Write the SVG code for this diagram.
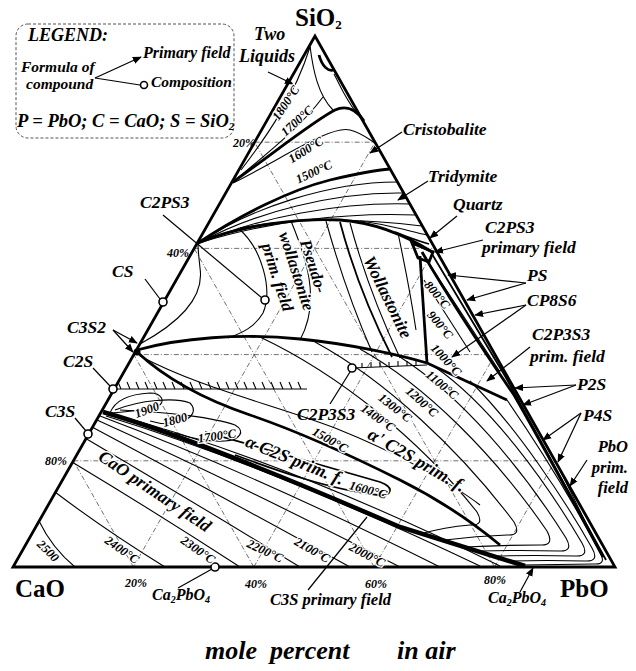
<svg xmlns="http://www.w3.org/2000/svg" width="636" height="671" viewBox="0 0 636 671">
<defs>
<marker id="ah" viewBox="0 0 10 10" refX="9" refY="5" markerWidth="9" markerHeight="9" markerUnits="userSpaceOnUse" orient="auto"><path d="M0,1 L10,5 L0,9 Z" fill="#000"/></marker>
<style>
.lb{font-family:"Liberation Serif",serif;font-weight:bold;font-style:italic;fill:#000}
.vx{font-family:"Liberation Serif",serif;font-weight:bold;font-size:25px;fill:#000}
.tl{font-family:"Liberation Serif",serif;font-weight:bold;font-style:italic;font-size:12.5px;fill:#000;stroke:#fff;stroke-width:2.5px;paint-order:stroke;text-anchor:middle}
.fl{font-family:"Liberation Serif",serif;font-weight:bold;font-style:italic;fill:#000;stroke:#fff;stroke-width:3px;paint-order:stroke;text-anchor:middle}
.pc{font-family:"Liberation Serif",serif;font-weight:bold;font-style:italic;font-size:12px;fill:#000}
.thin{fill:none;stroke:#000;stroke-width:1.1}
.med{fill:none;stroke:#000;stroke-width:1.8}
.thick{fill:none;stroke:#000;stroke-width:2.8}
.heavy{fill:none;stroke:#000;stroke-width:4.5}
.grid{fill:none;stroke:#333;stroke-width:0.7;stroke-dasharray:5 2 1 2}
.ptr{fill:none;stroke:#000;stroke-width:1.2}
.arr{fill:none;stroke:#000;stroke-width:1.2;marker-end:url(#ah)}
.pt{fill:#fff;stroke:#000;stroke-width:1.6}
</style>
</defs>
<rect width="636" height="671" fill="#fff"/>

<g id="grid">
<path class="grid" d="M254.6,142.2 H375 M194.2,248.4 H435 M133.8,354.6 H495 M73.4,460.8 H555"/>
<path class="grid" d="M133.4,567 L375,142.2 M253.8,567 L435,248.4 M374.2,567 L495,354.6 M494.6,567 L555,460.8"/>
<path class="grid" d="M494.6,567 L254.6,142.2 M374.2,567 L194.2,248.4 M253.8,567 L133.8,354.6 M133.4,567 L73.4,460.8"/>
</g>

<g id="triangle">
<path d="M315,36 L13,567 L615,567 Z" fill="none" stroke="#000" stroke-width="2.8" stroke-linejoin="miter"/>
</g>

<g id="silica-region">
<path class="thin" d="M310,46 C313,70 318,95 333,110"/>
<path class="thick" d="M319,55 C322,66 328,72 334,70"/>
<path class="thin" d="M334,74 C340,85 345,98 356,112"/>
<path class="thin" d="M241,170 C268,135 295,95 310,47"/>
<path class="thin" d="M233,182 C265,155 300,128 323,97"/>
<path class="thick" d="M233,182 C275,152 315,120 335,110 C348,104 358,112 364,121"/>
<path class="thin" d="M233,183 C280,160 330,125 350,130 C362,133 370,140 375,143"/>
<path class="thick" d="M198,243 C240,215 290,190 330,180 C355,174 375,170 390,169"/>
<path class="thin" d="M199,243 C250,208 330,182 397,182"/>
<path class="thin" d="M199,243 C255,212 335,192 403,193"/>
<path class="thin" d="M199,243 C260,217 340,202 410,204"/>
<path class="thin" d="M199,243 C265,222 345,212 416,215"/>
<path class="thin" d="M240,228 C290,218 360,218 422,226"/>
<path class="thin" d="M360,221 C385,224 405,230 427,235"/>
<path class="med" d="M395,232 C405,236 415,240 429,244"/>
<path class="thick" d="M198,243 C240,225 300,218 340,220 C380,223 410,238 432,252"/>
<path class="thick" d="M412,243 L433,252 L429,262 L418,258 Z" fill="#000"/>
</g>

<g id="wollastonite-region">
<path class="thin" d="M140,344 C175,325 205,300 200,268 C199,258 198,250 198,245"/>
<path class="thin" d="M238,228 C262,248 273,290 263,313 C255,327 242,333 228,338"/>
<path class="thin" d="M291,221 C305,255 322,300 300,340"/>
<path class="thin" d="M326,221 Q345,290 372,352"/>
<path class="med" d="M340,222 Q358,290 392,357"/>
<path class="thin" d="M350,223 Q368,290 400,358"/>
<path class="thin" d="M398,233 Q410,290 416,330"/>
<path class="thick" d="M420,256 L427,363"/>
<path class="thick" d="M137,350 C180,338 240,333 300,339 C350,344 400,355 427,363"/>
<path class="thick" d="M427,363 L507,400"/>
</g>

<g id="pbo-side">
<path class="thick" d="M422,252 C450,300 490,360 514,395 C540,440 575,505 603,557" stroke-width="3.2"/>
<path class="med" d="M432,254 L505,376 L606,560"/>
<path class="thin" d="M428,262 L500,372"/>
<path class="thin" d="M424,280 L470,352"/>
<path class="thin" d="M560,470 L600,552"/>
</g>

<g id="c2s-region">
<path class="thin" d="M113,389 H307"/>
<path class="thin" d="M121,389 l-3,-7 M130,389 l-3,-7 M139,389 l-3,-7 M148,389 l-3,-7 M157,389 l-3,-7 M166,389 l-3,-7 M175,389 l-3,-7 M184,389 l-3,-7 M193,389 l-3,-7 M202,389 l-3,-7 M211,389 l-3,-7 M220,389 l-3,-7 M229,389 l-3,-7 M238,389 l-3,-7 M247,389 l-3,-7 M256,389 l-3,-7 M265,389 l-3,-7 M274,389 l-3,-7 M283,389 l-3,-7 M292,389 l-3,-7 M301,389 l-3,-7"/>
<path class="thin" d="M352,368 L427,365"/>
<path class="thin" d="M362,368 v-5 M371,367 v-5 M380,367 v-5 M389,367 v-5 M398,366 v-5 M407,366 v-5 M416,366 v-5"/>
<path class="thick" d="M137,352 C165,378 200,398 250,415 C300,432 350,455 400,480 C440,500 470,520 500,545"/>
<path class="thin" d="M140,356 C200,388 275,405 335,428 C395,452 450,482 480,505"/>
<path class="thin" d="M507,400 C545,455 580,515 600,552 Q607,565 594,564 L522,565"/>
<path class="thin" d="M470,381 C515,425 565,500 592,548 Q600,562 585,561 Q548,560 510,561"/>
<path class="thin" d="M435,367 C490,405 545,480 582,543 Q590,557 575,556 Q535,555 495,556"/>
<path class="thin" d="M400,357 C460,395 520,465 566,538 Q574,552 559,551 Q520,550 480,551"/>
<path class="thin" d="M360,349 C425,385 495,455 547,531 Q555,546 540,545 Q503,545 465,547"/>
<path class="thin" d="M315,342 C385,380 460,450 514,522 Q522,536 507,535 Q476,536 445,540"/>
<path class="thin" d="M260,337 C340,375 420,440 477,512 Q485,526 470,525 Q445,527 420,534"/>
<path class="med" d="M205,432 C270,450 340,470 380,482 C395,487 392,497 378,495 C330,490 270,468 235,455"/>
<path class="thin" d="M120,410 C170,412 215,418 235,425 C246,431 240,440 225,441 C205,442 190,438 175,433"/>
<path class="thin" d="M115,410 C140,400 175,397 190,403 C197,410 193,418 180,422 C170,425 160,424 150,421"/>
<path class="thin" d="M110,413 C115,400 130,394 150,393 C162,393 166,402 158,406 C145,410 125,412 110,413"/>
<path class="heavy" d="M103,412 C160,428 250,462 400,527 L525,566"/>
<path class="thin" d="M106,416 Q270,466 480,566"/>
<path class="thin" d="M108,413 Q280,458 500,566"/>
</g>

<g id="cao-region">
<path class="thin" d="M39,521 Q52,548 75,567"/>
<path class="thin" d="M55,492 Q105,530 165,567"/>
<path class="thin" d="M72,462 Q160,515 240,567"/>
<path class="thin" d="M85,438 Q190,500 300,567"/>
<path class="thin" d="M92,427 Q210,490 350,567"/>
<path class="thin" d="M97,420 Q230,480 400,567"/>
<path class="thin" d="M100,416 Q250,472 440,567"/>
</g>

<g id="connectors">
<path class="arr" d="M95,78 L141,57"/>
<path class="ptr" d="M95,78 L140,85"/>
<path class="arr" d="M268,72 L293,84"/>
<path class="arr" d="M402,132 L370,153"/>
<path class="arr" d="M428,181 L398,200"/>
<path class="arr" d="M457,216 L430,238"/>
<path class="arr" d="M483,240 L435,252"/>
<path class="arr" d="M526,283 L448,275"/>
<path class="arr" d="M526,283 L467,300"/>
<path class="arr" d="M526,305 L475,315"/>
<path class="arr" d="M526,305 L452,357"/>
<path class="arr" d="M530,347 L487,381"/>
<path class="arr" d="M576,385 L515,388"/>
<path class="arr" d="M576,385 L523,405"/>
<path class="arr" d="M581,413 L543,440"/>
<path class="arr" d="M581,413 L558,462"/>
<path class="arr" d="M587,460 L570,486"/>
<path class="arr" d="M520,592 L533,568"/>
<path class="ptr" d="M308,590 L367,517"/>
<path class="ptr" d="M178,588 L212,569"/>
<path class="ptr" d="M163,215 L262,298"/>
<path class="ptr" d="M145,279 L160,299"/>
<path class="arr" d="M113,330 L137,343"/>
<path class="arr" d="M113,330 L133,352"/>
<path class="ptr" d="M93,368 L110,386"/>
<path class="ptr" d="M75,418 L86,431"/>
<path class="ptr" d="M330,404 L350,372"/>
</g>

<g id="compositions">
<circle class="pt" cx="144" cy="85" r="3.5"/>
<circle class="pt" cx="163" cy="302" r="4"/>
<circle class="pt" cx="113" cy="389" r="4"/>
<circle class="pt" cx="88" cy="434" r="4"/>
<circle class="pt" cx="265" cy="300" r="4"/>
<circle class="pt" cx="352" cy="368" r="4"/>
<circle class="pt" cx="215" cy="567" r="4"/>
<circle cx="137" cy="352" r="3.5" fill="#000"/>
</g>

<g id="legend">
<rect x="16" y="24" width="218" height="114" rx="12" fill="none" stroke="#555" stroke-width="1" stroke-dasharray="3 2"/>
<text class="lb" x="28" y="41" font-size="18">LEGEND:</text>
<text class="lb" x="143" y="58" font-size="16">Primary field</text>
<text class="lb" x="21" y="72" font-size="15.5">Formula of</text>
<text class="lb" x="26" y="89" font-size="15.5">compound</text>
<text class="lb" x="151" y="87" font-size="15.5">Composition</text>
<text class="lb" x="17" y="127" font-size="18.5">P = PbO; C = CaO; S = SiO<tspan font-size="11" dy="3">2</tspan></text>
</g>

<g id="vertex-labels">
<text class="vx" x="295" y="26">SiO<tspan font-size="13" dy="3">2</tspan></text>
<text class="vx" x="15" y="597">CaO</text>
<text class="vx" x="560" y="597">PbO</text>
</g>

<g id="percent-labels">
<text class="pc" x="233" y="147">20%</text>
<text class="pc" x="167" y="257">40%</text>
<text class="pc" x="45" y="465">80%</text>
<text class="pc" x="125" y="587">20%</text>
<text class="pc" x="245" y="588">40%</text>
<text class="pc" x="365" y="588">60%</text>
<text class="pc" x="484" y="584">80%</text>
</g>

<g id="phase-labels">
<text class="lb" x="254" y="40" font-size="18">Two</text>
<text class="lb" x="239" y="62" font-size="18">Liquids</text>
<text class="lb" x="403" y="135" font-size="17.5">Cristobalite</text>
<text class="lb" x="428" y="182" font-size="17.5">Tridymite</text>
<text class="lb" x="453" y="210" font-size="17.5">Quartz</text>
<text class="lb" x="485" y="233" font-size="17.5">C2PS3</text>
<text class="lb" x="482" y="253" font-size="17.5">primary field</text>
<text class="lb" x="527" y="281" font-size="17.5">PS</text>
<text class="lb" x="527" y="306" font-size="17.5">CP8S6</text>
<text class="lb" x="532" y="340" font-size="17.5">C2P3S3</text>
<text class="lb" x="530" y="362" font-size="17.5">prim. field</text>
<text class="lb" x="577" y="390" font-size="17.5">P2S</text>
<text class="lb" x="583" y="421" font-size="17.5">P4S</text>
<text class="lb" x="628" y="452" font-size="16.5" text-anchor="end">PbO</text>
<text class="lb" x="628" y="473" font-size="16.5" text-anchor="end">prim.</text>
<text class="lb" x="628" y="493" font-size="16.5" text-anchor="end">field</text>
<text class="lb" x="140" y="208" font-size="17.5">C2PS3</text>
<text class="lb" x="112" y="277" font-size="17.5">CS</text>
<text class="lb" x="67" y="333" font-size="17.5">C3S2</text>
<text class="lb" x="63" y="367" font-size="17.5">C2S</text>
<text class="lb" x="45" y="417" font-size="17.5">C3S</text>
<text class="lb" x="297" y="420" font-size="17.5">C2P3S3</text>
<text class="lb" x="152" y="600" font-size="16">Ca<tspan font-size="10" dy="3">2</tspan><tspan dy="-3">PbO</tspan><tspan font-size="10" dy="3">4</tspan></text>
<text class="lb" x="488" y="603" font-size="16">Ca<tspan font-size="10" dy="3">2</tspan><tspan dy="-3">PbO</tspan><tspan font-size="10" dy="3">4</tspan></text>
<text class="lb" x="270" y="605" font-size="16.5">C3S primary field</text>
<text class="fl" font-size="17.5" transform="translate(155,491) rotate(34)" dy="6">CaO primary field</text>
<text class="fl" font-size="18" transform="translate(295,460) rotate(22)" dy="6">α C2S prim. f.</text>
<text class="fl" font-size="18" transform="translate(417,460) rotate(30)" dy="6">α' C2S prim. f.</text>
<text class="fl" font-size="17.5" transform="translate(388,297) rotate(64)" dy="6">Wollastonite</text>
<text class="fl" font-size="16.5" transform="translate(314,266) rotate(72)" dy="6">Pseudo-</text>
<text class="fl" font-size="16.5" transform="translate(297,271) rotate(72)" dy="6">wollastonite</text>
<text class="fl" font-size="16.5" transform="translate(278,277) rotate(72)" dy="6">prim. field</text>
</g>

<g id="isotherm-labels">
<text class="tl" transform="translate(286,103) rotate(-56)" dy="4">1800°C</text>
<text class="tl" transform="translate(297,121) rotate(-42)" dy="4">1700°C</text>
<text class="tl" transform="translate(306,150) rotate(-32)" dy="4">1600°C</text>
<text class="tl" transform="translate(314,172) rotate(-25)" dy="4">1500°C</text>
<text class="tl" transform="translate(437,295) rotate(50)" dy="4">800°C</text>
<text class="tl" transform="translate(440,325) rotate(50)" dy="4">900°C</text>
<text class="tl" transform="translate(446,360) rotate(47)" dy="4">1000°C</text>
<text class="tl" transform="translate(442,385) rotate(40)" dy="4">1100°C</text>
<text class="tl" transform="translate(422,402) rotate(42)" dy="4">1200°C</text>
<text class="tl" transform="translate(395,408) rotate(38)" dy="4">1300°C</text>
<text class="tl" transform="translate(378,418) rotate(35)" dy="4">1400°C</text>
<text class="tl" transform="translate(330,440) rotate(30)" dy="4">1500°C</text>
<text class="tl" transform="translate(368,490) rotate(15)" dy="4">1600°C</text>
<text class="tl" transform="translate(217,436) rotate(-8)" dy="4">1700°C</text>
<text class="tl" transform="translate(175,420) rotate(-15)" dy="4">1800</text>
<text class="tl" transform="translate(147,410) rotate(-20)" dy="4">1900</text>
<text class="tl" transform="translate(48,551) rotate(45)" dy="4">2500</text>
<text class="tl" transform="translate(122,550) rotate(35)" dy="4">2400°C</text>
<text class="tl" transform="translate(198,550) rotate(35)" dy="4">2300°C</text>
<text class="tl" transform="translate(265,551) rotate(25)" dy="4">2200°C</text>
<text class="tl" transform="translate(312,550) rotate(30)" dy="4">2100°C</text>
<text class="tl" transform="translate(367,555) rotate(28)" dy="4">2000°C</text>
</g>

<g id="caption">
<text class="lb" x="205" y="659" font-size="26">mole</text>
<text class="lb" x="270" y="659" font-size="26">percent</text>
<text class="lb" x="397" y="659" font-size="26">in air</text>
</g>
</svg>
